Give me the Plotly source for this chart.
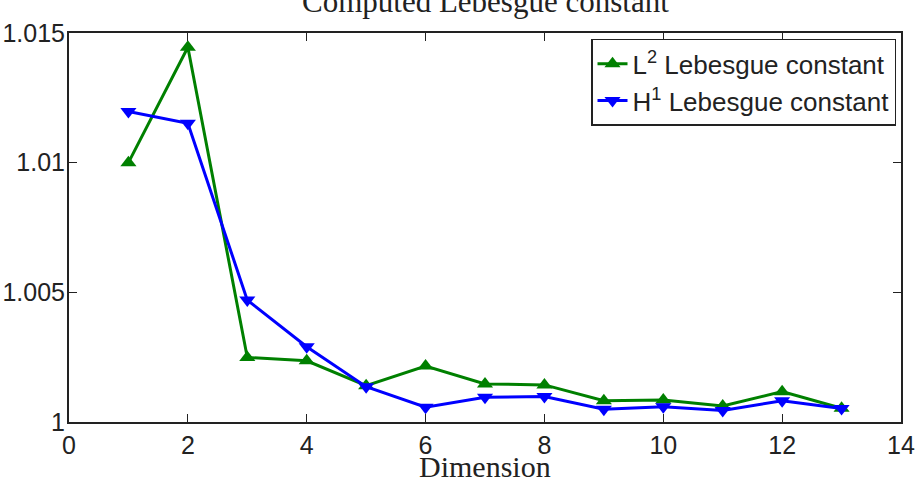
import plotly.graph_objects as go

dims = [1, 2, 3, 4, 5, 6, 7, 8, 9, 10, 11, 12, 13]
l2_const = [1.01000, 1.01445, 1.00249, 1.00236, 1.00140, 1.00216, 1.00147, 1.00143,
            1.00082, 1.00085, 1.00062, 1.00117, 1.00053]
h1_const = [1.01197, 1.01152, 1.00470, 1.00290, 1.00136, 1.00057, 1.00095, 1.00098,
            1.00049, 1.00059, 1.00044, 1.00082, 1.00052]
x_ticks = [0, 2, 4, 6, 8, 10, 12, 14]
y_ticks = [1.0, 1.005, 1.01, 1.015]
y_tick_text = ["1", "1.005", "1.01", "1.015"]

fig = go.Figure()
fig.add_trace(go.Scatter(
    x=dims, y=l2_const, mode="lines+markers",
    name="L<sup>2</sup> Lebesgue constant",
    line=dict(color="#008000", width=3),
    marker=dict(symbol="triangle-up", size=14, color="#008000"),
))
fig.add_trace(go.Scatter(
    x=dims, y=h1_const, mode="lines+markers",
    name="H<sup>1</sup> Lebesgue constant",
    line=dict(color="#0000FF", width=3),
    marker=dict(symbol="triangle-down", size=14, color="#0000FF"),
))

axis_common = dict(
    showline=True, linecolor="#222222", linewidth=2, mirror="ticks",
    ticks="inside", ticklen=8, tickwidth=1, tickcolor="#222222",
    showgrid=False, zeroline=False, automargin=False,
    tickfont=dict(family="Liberation Sans, Arial, sans-serif", size=25, color="#222222"),
)

fig.update_xaxes(range=[0, 14], tickvals=x_ticks, ticktext=[str(v) for v in x_ticks],
                 **axis_common)
fig.update_yaxes(range=[1.0, 1.015], tickvals=y_ticks, ticktext=y_tick_text,
                 ticklabelstandoff=-3, **axis_common)

fig.update_layout(
    width=921, height=480,
    margin=dict(l=69, r=20, t=33, b=58),
    paper_bgcolor="white", plot_bgcolor="white",
    showlegend=True,
    legend=dict(
        x=0.994, y=0.985, xanchor="right", yanchor="top",
        bgcolor="white", bordercolor="#222222", borderwidth=1.5,
        font=dict(family="Liberation Sans, Arial, sans-serif", size=26, color="#222222"),
    ),
    annotations=[
        dict(text="Computed Lebesgue constant", xref="paper", yref="paper",
             x=0.5, y=1, xanchor="center", yanchor="bottom", yshift=12,
             showarrow=False,
             font=dict(family="Liberation Serif, Times New Roman, serif", size=31, color="#222222")),
        dict(text="Dimension", xref="paper", yref="paper",
             x=0.5, y=0, xanchor="center", yanchor="top", yshift=-26,
             showarrow=False,
             font=dict(family="Liberation Serif, Times New Roman, serif", size=30, color="#222222")),
    ],
)

fig.write_html("out.html")
